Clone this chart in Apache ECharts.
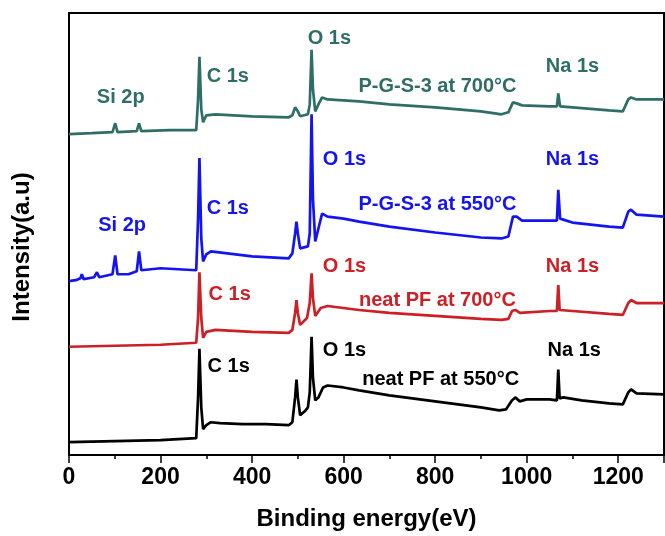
<!DOCTYPE html>
<html><head><meta charset="utf-8">
<script src="https://cdn.jsdelivr.net/npm/echarts@6/dist/echarts.min.js"></script>
<style>html,body{margin:0;padding:0;background:#fff}#c{width:665px;height:536px}</style>
</head><body><div id="c"></div>
<script>
// Binding energy (eV) / intensity (a.u., offset-stacked) pairs
const neatPF550 = [[0,13],[100,14],[200,15],[278,17],[282,58],[285,107],[289,48],[293,26],[300,30],[310,33],[330,32],[380,31],[430,31],[480,30],[488,33],[494,58],[497,76],[500,58],[505,40],[515,44],[522,48],[526,63],[530,119],[533,78],[538,55],[545,58],[555,68],[565,70],[600,68],[634,65],[700,60],[800,54],[900,48],[940,45],[955,46],[968,55],[975,58],[985,54],[1000,56],[1050,56],[1066,55],[1069,86],[1072,57],[1080,58],[1120,55],[1180,52],[1210,51],[1222,63],[1228,66],[1240,62],[1300,61]];
const neatPF700 = [[0,109],[100,110],[200,111],[278,113],[282,138],[285,184],[289,138],[293,118],[300,124],[320,126],[400,124],[480,123],[488,126],[494,143],[497,156],[500,143],[505,131],[520,138],[526,153],[530,183],[533,158],[538,140],[550,148],[565,150],[634,146],[700,143],[800,140],[900,137],[945,136],[960,137],[968,145],[975,146],[985,143],[1050,145],[1066,145],[1069,171],[1072,146],[1100,145],[1180,142],[1210,141],[1222,153],[1228,156],[1240,153],[1300,153]];
const pgs550 = [[0,175],[15,176],[25,178],[28,182],[32,177],[55,179],[61,184],[66,179],[95,182],[101,201],[106,182],[130,182],[148,185],[153,205],[158,186],[200,188],[278,186],[282,238],[285,299],[289,218],[293,195],[300,202],[310,205],[400,200],[480,198],[488,203],[494,223],[497,235],[500,223],[505,208],[522,210],[526,223],[530,343],[533,258],[538,215],[545,228],[553,243],[565,240],[600,238],[634,235],[700,230],[800,224],[900,219],[945,218],[960,220],[970,240],[978,240],[990,236],[1050,236],[1066,236],[1069,267],[1073,238],[1100,234],[1180,230],[1210,229],[1222,245],[1228,247],[1240,242],[1300,240]];
const pgs700 = [[0,323],[50,324],[95,325],[101,334],[106,325],[148,326],[153,334],[158,326],[220,327],[278,327],[282,358],[285,401],[289,348],[293,335],[300,342],[320,343],[400,341],[480,340],[488,342],[494,350],[497,352],[500,346],[505,341],[522,343],[526,353],[530,408],[533,368],[538,346],[545,353],[553,360],[565,358],[634,356],[700,353],[800,350],[900,346],[945,343],[960,345],[970,355],[978,354],[990,352],[1050,351],[1066,351],[1069,364],[1073,351],[1100,350],[1180,347],[1210,346],[1222,358],[1228,360],[1240,358],[1300,358]];

// Peak / sample annotations: [energy, intensity, text]
const notesPF550 = [[349,89,'C 1s'],[602,105,'O 1s'],[812,76,'neat PF at 550°C'],[1104,105,'Na 1s']];
const notesPF700 = [[351,162,'C 1s'],[602,190,'O 1s'],[805,156,'neat PF at 700°C'],[1100,190,'Na 1s']];
const notesPGS550 = [[116,231,'Si 2p'],[347,248,'C 1s'],[602,298,'O 1s'],[805,252,'P-G-S-3 at 550°C'],[1100,298,'Na 1s']];
const notesPGS700 = [[113,360,'Si 2p'],[347,381,'C 1s'],[569,419,'O 1s'],[805,371,'P-G-S-3 at 700°C'],[1100,391,'Na 1s']];

const xTicks = [0,200,400,600,800,1000,1200];

const FONT = '"Liberation Sans", Arial, sans-serif';
const colors = {pf550:'#000000', pf700:'#cc1f26', pgs550:'#1414f0', pgs700:'#2f6e67'};

function lineSeries(data, color){
  return {type:'line', data, showSymbol:false, symbol:'none', lineStyle:{color, width:2.7, opacity:1}, silent:true, animation:false, z:2};
}
function noteSeries(data, color){
  return {type:'scatter', data, symbolSize:0, silent:true, animation:false, z:5,
    itemStyle:{opacity:1, color},
    label:{show:true, position:'inside', formatter:p=>p.data[2], color, opacity:1, fontFamily:FONT, fontWeight:'bold', fontSize:20}};
}

const chart = echarts.init(document.getElementById('c'), null, {renderer:'canvas'});
chart.setOption({
  backgroundColor:'#fff',
  grid:{left:69, right:1, top:13, bottom:78, show:true, borderColor:'#000', borderWidth:2, backgroundColor:'transparent'},
  xAxis:{type:'value', min:0, max:1300, interval:200,
    name:'Binding energy(eV)', nameLocation:'middle', nameGap:52,
    nameTextStyle:{fontFamily:FONT, fontWeight:'bold', fontSize:24, color:'#000'},
    axisLine:{show:true, lineStyle:{color:'#000', width:2}},
    axisTick:{show:true, inside:false, length:8, lineStyle:{color:'#000', width:1.5}},
    minorTick:{show:true, splitNumber:2, length:4, lineStyle:{color:'#000', width:1.5}},
    axisLabel:{show:true, margin:11, fontFamily:FONT, fontWeight:'bold', fontSize:23, color:'#000', showMaxLabel:false,
      formatter:v=> xTicks.includes(v) ? String(v) : ''},
    splitLine:{show:false}},
  yAxis:{type:'value', min:0, max:445,
    axisLine:{show:true, lineStyle:{color:'#000', width:2}},
    axisTick:{show:false}, axisLabel:{show:false}, splitLine:{show:false}},
  graphic:[{type:'text', x:22, y:247, rotation:Math.PI/2,
    style:{text:'Intensity(a.u)', fontFamily:FONT, fontWeight:'bold', fontSize:24, fill:'#000', textAlign:'center', textVerticalAlign:'middle'}}],
  series:[
    lineSeries(neatPF550, colors.pf550),
    lineSeries(neatPF700, colors.pf700),
    lineSeries(pgs550, colors.pgs550),
    lineSeries(pgs700, colors.pgs700),
    noteSeries(notesPF550, colors.pf550),
    noteSeries(notesPF700, colors.pf700),
    noteSeries(notesPGS550, colors.pgs550),
    noteSeries(notesPGS700, colors.pgs700)
  ]
});
</script></body></html>
